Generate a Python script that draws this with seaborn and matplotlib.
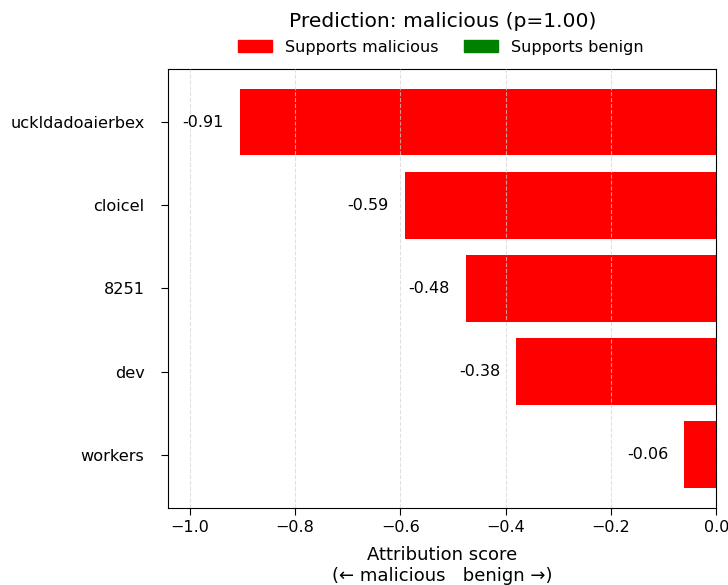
import matplotlib
matplotlib.use("Agg")
import matplotlib.pyplot as plt
from matplotlib.patches import Patch
import seaborn as sns
import pandas as pd

tokens = ["uckldadoaierbex", "cloicel", "8251", "dev", "workers"]
scores = [-0.905, -0.592, -0.476, -0.380, -0.061]
score_labels = ["-0.91", "-0.59", "-0.48", "-0.38", "-0.06"]
prediction = "malicious"
probability = 1.00

MAL_COLOR = "red"
BEN_COLOR = "green"

df = pd.DataFrame({"token": tokens, "score": scores})
df["color"] = [MAL_COLOR if s < 0 else BEN_COLOR for s in scores]

fig, ax = plt.subplots(figsize=(7.28, 5.85), dpi=100)
fig.subplots_adjust(left=0.231, right=0.984, top=0.882, bottom=0.132)

sns.barplot(data=df, x="score", y="token", hue="token",
            palette=dict(zip(df["token"], df["color"])),
            orient="h", width=0.8, saturation=1, legend=False, ax=ax)

for i, (s, lab) in enumerate(zip(scores, score_labels)):
    if s < 0:
        ax.text(s - 0.03, i, lab, ha="right", va="center", fontsize=11.5)
    else:
        ax.text(s + 0.03, i, lab, ha="left", va="center", fontsize=11.5)

ax.set_xlim(min(scores) * 1.15, 0)
ax.set_ylim(len(tokens) - 0.36, -0.64)
ax.set_ylabel("")
ax.set_xlabel("Attribution score\n(\u2190 malicious   benign \u2192)", fontsize=13,
              labelpad=8)
ax.tick_params(axis="x", labelsize=11.5, length=5, pad=3.6)
ax.tick_params(axis="y", labelsize=11.6, length=5, pad=12)
ax.set_axisbelow(False)
ax.xaxis.grid(True, linestyle="--", color="lightgray", alpha=0.7)
for sp in ax.spines.values():
    sp.set_color("black")

ax.set_title(f"Prediction: {prediction} (p={probability:.2f})", fontsize=14.6, pad=30.5)
handles = [Patch(color=MAL_COLOR, label="Supports malicious"),
           Patch(color=BEN_COLOR, label="Supports benign")]
ax.legend(handles=handles, loc="lower center", bbox_to_anchor=(0.497, 1.0),
          ncol=2, frameon=False, fontsize=11.6, handlelength=2.1, columnspacing=1.6)

fig.savefig("out.png", dpi=100)
